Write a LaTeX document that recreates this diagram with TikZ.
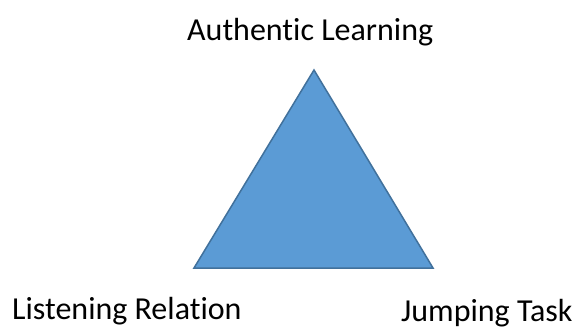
\documentclass[tikz,border=0pt]{standalone}
\usepackage{fontspec}
\setmainfont[Ligatures=NoCommon]{Carlito}
\definecolor{triFill}{HTML}{5B9BD5}
\definecolor{triLine}{HTML}{41719C}
\begin{document}
\begin{tikzpicture}[x=1pt,y=-1pt,
  lbl/.style={inner sep=0pt,font=\fontsize{32}{38}\selectfont,text=black}]
\useasboundingbox[fill=white] (0,0) rectangle (579,329);
\coordinate (top) at (314,70);
\coordinate (bl) at (194,268);
\coordinate (br) at (433,268);
\draw[fill=triFill,draw=triLine,line width=1.5pt,line join=miter] (top) -- (bl) -- (br) -- cycle;
\node[lbl,anchor=base west] (auth) at (187,41) {Authentic Learning};
\node[lbl,anchor=base west] (listen) at (12,319) {Listening Relation};
\node[lbl,anchor=base west] (jump) at (401,321) {Jumping Task};
\end{tikzpicture}
\end{document}
